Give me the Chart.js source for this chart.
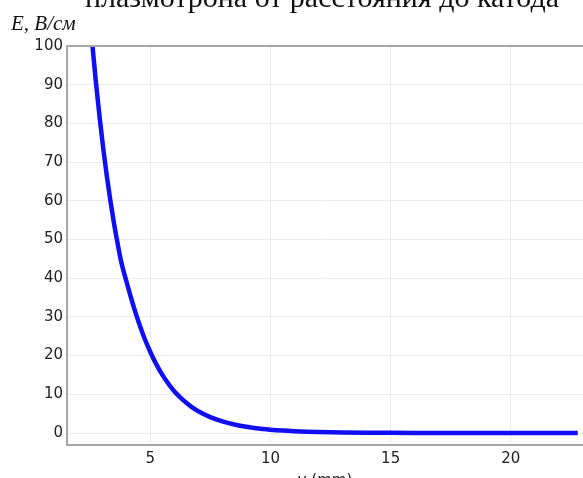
<!DOCTYPE html>
<html>
<head>
<meta charset="utf-8">
<script src="https://cdn.jsdelivr.net/npm/chart.js@4.4.0/dist/chart.umd.min.js"></script>
<style>
  html, body { margin: 0; padding: 0; background: #fff; overflow: hidden; width: 583px; height: 478px; }
  #wrap { position: relative; width: 583px; height: 478px; overflow: hidden; }
  #chart { position: absolute; left: 0; top: 0; }
  .caption { position: absolute; font-family: "Liberation Serif", "Times New Roman", serif; color: #111; white-space: nowrap; }
  #topTitle { left: -3px; width: 650px; text-align: center; top: -18px; font-size: 30px; line-height: 30px; }
  #yLabel { left: 11px; top: 13px; font-size: 21px; line-height: 21px; font-style: italic; }
</style>
</head>
<body>
<div id="wrap">
  <canvas id="chart" width="583" height="500"></canvas>
  <div class="caption" id="topTitle">плазмотрона от расстояния до катода</div>
  <div class="caption" id="yLabel">E, В/см</div>
</div>
<script>
// distance to cathode, mm
const distance = [2.6, 2.75, 2.9, 3.05, 3.2, 3.35, 3.5, 3.65, 3.8, 4.0, 4.2, 4.4, 4.6, 4.8, 5.0,
  5.25, 5.5, 5.75, 6.0, 6.25, 6.5, 6.75, 7.0, 7.5, 8.0, 8.5, 9.0, 9.5, 10, 10.5,
  11, 11.5, 12, 13, 14, 15, 16, 18, 20, 22.78];
// field strength E, V/cm
const field = [100, 90.2, 81.4, 73.4, 66.2, 59.8, 54, 48.8, 44.1, 39.4, 35.0, 30.9, 27.2, 23.9, 21.0,
  17.8, 15.1, 12.8, 10.8, 9.2, 7.8, 6.6, 5.6, 4.1, 3.0, 2.2, 1.6, 1.15, 0.85, 0.62,
  0.45, 0.33, 0.24, 0.13, 0.07, 0.04, 0.02, 0.01, 0, 0];

const xTicks = [5, 10, 15, 20];
const yTicks = [0, 10, 20, 30, 40, 50, 60, 70, 80, 90, 100];

const axisGray = '#a6a6a6';
const gridGray = '#ececec';
const tickFont = { family: 'DejaVu Sans', size: 15 };

// top frame line, like the plot box in the picture
const frameTop = {
  id: 'frameTop',
  afterDraw(chart) {
    const { ctx, chartArea } = chart;
    ctx.save();
    ctx.strokeStyle = axisGray;
    ctx.lineWidth = 2;
    ctx.beginPath();
    ctx.moveTo(chartArea.left, chartArea.top);
    ctx.lineTo(chartArea.right, chartArea.top);
    ctx.stroke();
    ctx.restore();
  }
};

const ctx = document.getElementById('chart').getContext('2d');
const chart = new Chart(ctx, {
  type: 'line',
  data: {
    datasets: [{
      data: distance.map((d, i) => ({ x: d, y: field[i] })),
      borderColor: '#0f0ff2',
      borderWidth: 4.5,
      pointRadius: 0,
      fill: false,
      cubicInterpolationMode: 'monotone'
    }]
  },
  options: {
    responsive: false,
    animation: false,
    layout: { padding: { left: 0, right: 0, top: 46, bottom: 0 } },
    plugins: { legend: { display: false }, tooltip: { enabled: false } },
    scales: {
      x: {
        type: 'linear',
        min: 1.54,
        max: 23.0,
        afterBuildTicks: (scale) => { scale.ticks = xTicks.map(v => ({ value: v })); },
        afterFit: (scale) => { scale.height = 55; },
        grid: { color: gridGray, drawTicks: false, lineWidth: 1 },
        border: { color: axisGray, width: 2 },
        ticks: { font: tickFont, color: '#222', padding: 5, maxRotation: 0 },
        title: { display: true, text: 'y (mm)', font: tickFont, color: '#222', padding: { top: 0, bottom: 10 } }
      },
      y: {
        min: -3.1,
        max: 100,
        afterBuildTicks: (scale) => { scale.ticks = yTicks.map(v => ({ value: v })); },
        afterFit: (scale) => { scale.width = 67; },
        grid: { color: gridGray, drawTicks: false, lineWidth: 1 },
        border: { color: axisGray, width: 2 },
        ticks: { font: tickFont, color: '#222', padding: 4 }
      }
    }
  },
  plugins: [frameTop]
});
</script>
</body>
</html>
